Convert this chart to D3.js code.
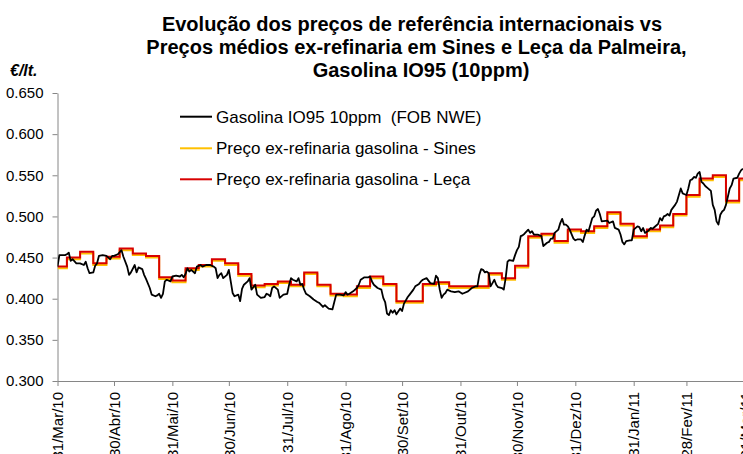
<!DOCTYPE html>
<html><head><meta charset="utf-8">
<script src="https://cdn.jsdelivr.net/npm/d3@7"></script>
<style>
html,body{margin:0;padding:0;background:#fff;}
svg{display:block;font-family:Arial,"Liberation Sans",sans-serif;}
text{white-space:pre;}
</style></head>
<body>
<svg id="chart" width="743" height="454"></svg>
<script>
const titleLines = ["Evolução dos preços de referência internacionais vs",
  "Preços médios ex-refinaria em Sines e Leça da Palmeira,",
  "Gasolina IO95 (10ppm)"];
const unitLabel = "€/lt.";
const seriesNames = ["Gasolina IO95 10ppm  (FOB NWE)",
  "Preço ex-refinaria gasolina - Sines",
  "Preço ex-refinaria gasolina - Leça"];
const yTicks = [0.300,0.350,0.400,0.450,0.500,0.550,0.600,0.650];
const tickDates = ["2010-03-31","2010-04-30","2010-05-31","2010-06-30","2010-07-31","2010-08-31",
  "2010-09-30","2010-10-31","2010-11-30","2010-12-31","2011-01-31","2011-02-28","2011-03-31"];
const tickLabels = ["31/Mar/10","30/Abr/10","31/Mai/10","30/Jun/10","31/Jul/10","31/Ago/10",
  "30/Set/10","31/Out/10","30/Nov/10","31/Dez/10","31/Jan/11","28/Fev/11","31/Mar/11"];

// Gasolina IO95 10ppm (FOB NWE) - daily quotes
const fobDates = ["2010-03-31","2010-04-01","2010-04-04","2010-04-05","2010-04-06","2010-04-07","2010-04-08","2010-04-10","2010-04-12","2010-04-14","2010-04-15","2010-04-16","2010-04-17","2010-04-19","2010-04-20","2010-04-21","2010-04-22","2010-04-24","2010-04-26","2010-04-28","2010-04-29","2010-04-30",
"2010-05-02","2010-05-04","2010-05-05","2010-05-07","2010-05-08","2010-05-09","2010-05-11","2010-05-12","2010-05-13","2010-05-15","2010-05-16","2010-05-17","2010-05-19","2010-05-20","2010-05-22","2010-05-23","2010-05-24","2010-05-25","2010-05-26","2010-05-27","2010-05-28","2010-05-30","2010-05-31",
"2010-06-02","2010-06-04","2010-06-05","2010-06-06","2010-06-07","2010-06-08","2010-06-09","2010-06-10","2010-06-12","2010-06-13","2010-06-15","2010-06-16","2010-06-18","2010-06-20","2010-06-22","2010-06-23","2010-06-24","2010-06-25","2010-06-26","2010-06-27","2010-06-29","2010-06-30",
"2010-07-01","2010-07-02","2010-07-03","2010-07-05","2010-07-06","2010-07-07","2010-07-08","2010-07-10","2010-07-11","2010-07-12","2010-07-14","2010-07-15","2010-07-17","2010-07-19","2010-07-20","2010-07-21","2010-07-22","2010-07-23","2010-07-24","2010-07-26","2010-07-27","2010-07-29","2010-07-31",
"2010-08-01","2010-08-02","2010-08-03","2010-08-05","2010-08-06","2010-08-07","2010-08-08","2010-08-09","2010-08-10","2010-08-12","2010-08-14","2010-08-16","2010-08-17","2010-08-19","2010-08-20","2010-08-22","2010-08-24","2010-08-25","2010-08-26","2010-08-28","2010-08-30","2010-08-31",
"2010-09-01","2010-09-02","2010-09-04","2010-09-06","2010-09-07","2010-09-08","2010-09-10","2010-09-12","2010-09-13","2010-09-14","2010-09-15","2010-09-17","2010-09-19","2010-09-20","2010-09-21","2010-09-22","2010-09-23","2010-09-24","2010-09-25","2010-09-26","2010-09-27","2010-09-29","2010-09-30",
"2010-10-01","2010-10-03","2010-10-04","2010-10-06","2010-10-07","2010-10-09","2010-10-10","2010-10-11","2010-10-13","2010-10-15","2010-10-17","2010-10-18","2010-10-19","2010-10-20","2010-10-21","2010-10-22","2010-10-23","2010-10-24","2010-10-26","2010-10-28","2010-10-30",
"2010-11-01","2010-11-02","2010-11-04","2010-11-06","2010-11-08","2010-11-09","2010-11-10","2010-11-11","2010-11-12","2010-11-13","2010-11-14","2010-11-15","2010-11-16","2010-11-17","2010-11-18","2010-11-19","2010-11-20","2010-11-22","2010-11-23","2010-11-24","2010-11-25","2010-11-26","2010-11-28","2010-11-29","2010-11-30",
"2010-12-01","2010-12-02","2010-12-03","2010-12-04","2010-12-06","2010-12-07","2010-12-08","2010-12-09","2010-12-11","2010-12-13","2010-12-14","2010-12-16","2010-12-17","2010-12-18","2010-12-19","2010-12-20","2010-12-22","2010-12-23","2010-12-24","2010-12-25","2010-12-26","2010-12-27","2010-12-28","2010-12-30","2010-12-31",
"2011-01-01","2011-01-03","2011-01-04","2011-01-05","2011-01-06","2011-01-07","2011-01-08","2011-01-09","2011-01-10","2011-01-11","2011-01-12","2011-01-13","2011-01-14","2011-01-17","2011-01-18","2011-01-20","2011-01-21","2011-01-23","2011-01-24","2011-01-25","2011-01-26","2011-01-27","2011-01-29","2011-01-30","2011-01-31",
"2011-02-02","2011-02-03","2011-02-04","2011-02-05","2011-02-06","2011-02-08","2011-02-09","2011-02-10","2011-02-12","2011-02-13","2011-02-14","2011-02-15","2011-02-16","2011-02-17","2011-02-18","2011-02-19","2011-02-20","2011-02-22","2011-02-23","2011-02-24","2011-02-25","2011-02-26","2011-02-27","2011-02-28",
"2011-03-01","2011-03-02","2011-03-03","2011-03-04","2011-03-05","2011-03-06","2011-03-07","2011-03-08","2011-03-09","2011-03-10","2011-03-11","2011-03-13","2011-03-14","2011-03-15","2011-03-16","2011-03-17","2011-03-18","2011-03-19","2011-03-20","2011-03-21","2011-03-22","2011-03-23","2011-03-24","2011-03-25","2011-03-27","2011-03-28","2011-03-29","2011-03-30"];
const fobValues = [0.439,0.453,0.453,0.454,0.456,0.446,0.448,0.443,0.443,0.441,0.445,0.437,0.431,0.432,0.440,0.443,0.452,0.453,0.452,0.448,0.452,0.452,
0.454,0.459,0.451,0.439,0.429,0.432,0.441,0.432,0.438,0.436,0.429,0.424,0.413,0.405,0.403,0.404,0.406,0.401,0.406,0.421,0.423,0.421,0.427,
0.428,0.427,0.429,0.426,0.430,0.437,0.433,0.435,0.431,0.439,0.441,0.439,0.441,0.441,0.439,0.437,0.425,0.429,0.431,0.425,0.429,0.435,
0.421,0.407,0.403,0.405,0.397,0.412,0.417,0.421,0.425,0.411,0.417,0.405,0.401,0.402,0.406,0.405,0.403,0.413,0.415,0.411,0.401,0.405,0.406,
0.417,0.425,0.423,0.421,0.425,0.417,0.418,0.411,0.406,0.403,0.399,0.396,0.395,0.390,0.392,0.388,0.387,0.396,0.405,0.405,0.404,0.408,
0.405,0.406,0.409,0.413,0.417,0.423,0.426,0.426,0.427,0.421,0.417,0.413,0.411,0.401,0.396,0.382,0.380,0.386,0.383,0.386,0.381,0.388,0.385,
0.394,0.402,0.405,0.411,0.415,0.418,0.421,0.423,0.425,0.419,0.418,0.428,0.425,0.411,0.401,0.405,0.407,0.411,0.409,0.408,0.409,
0.406,0.407,0.409,0.413,0.415,0.415,0.429,0.436,0.435,0.432,0.433,0.431,0.415,0.419,0.423,0.417,0.414,0.413,0.411,0.425,0.445,0.447,0.446,0.453,0.459,
0.463,0.476,0.477,0.479,0.484,0.480,0.482,0.478,0.478,0.476,0.464,0.468,0.469,0.473,0.473,0.480,0.484,0.492,0.497,0.490,0.490,0.488,0.484,0.473,0.471,
0.472,0.472,0.469,0.477,0.484,0.482,0.490,0.498,0.500,0.507,0.509,0.503,0.494,0.495,0.492,0.494,0.486,0.484,0.478,0.469,0.466,0.470,0.471,0.471,0.484,
0.488,0.487,0.482,0.486,0.480,0.483,0.486,0.485,0.489,0.491,0.498,0.495,0.500,0.501,0.503,0.501,0.508,0.514,0.518,0.526,0.534,0.528,0.527,0.526,
0.534,0.544,0.545,0.548,0.547,0.552,0.554,0.542,0.540,0.537,0.535,0.531,0.514,0.508,0.494,0.490,0.502,0.506,0.508,0.514,0.524,0.534,0.538,0.546,0.547,0.552,0.556,0.558];

// Weekly ex-refinery prices (week start dates)
const weekDates = ["2010-03-31","2010-04-05","2010-04-12","2010-04-19","2010-04-26","2010-05-03","2010-05-10","2010-05-17","2010-05-24","2010-05-31",
"2010-06-07","2010-06-14","2010-06-21","2010-06-28","2010-07-05","2010-07-12","2010-07-19","2010-07-26","2010-08-02","2010-08-09",
"2010-08-16","2010-08-23","2010-08-30","2010-09-06","2010-09-13","2010-09-20","2010-09-27","2010-10-04","2010-10-11","2010-10-18",
"2010-10-25","2010-11-01","2010-11-08","2010-11-15","2010-11-22","2010-11-29","2010-12-06","2010-12-13","2010-12-20","2010-12-27",
"2011-01-03","2011-01-10","2011-01-17","2011-01-24","2011-01-31","2011-02-07","2011-02-14","2011-02-21","2011-02-28","2011-03-07",
"2011-03-14","2011-03-21","2011-03-28"];
const lecaValues = [0.439,0.450,0.457,0.443,0.451,0.461,0.455,0.452,0.426,0.422,
0.437,0.441,0.448,0.443,0.430,0.416,0.418,0.421,0.417,0.432,
0.417,0.406,0.405,0.415,0.427,0.418,0.397,0.397,0.418,0.420,
0.415,0.415,0.415,0.431,0.425,0.440,0.476,0.479,0.470,0.484,
0.482,0.488,0.505,0.491,0.476,0.484,0.489,0.503,0.526,0.546,
0.550,0.519,0.546];
const sinesValues = [0.437,0.448,0.455,0.441,0.449,0.459,0.453,0.450,0.424,0.420,
0.435,0.439,0.446,0.441,0.428,0.414,0.416,0.419,0.415,0.430,
0.415,0.404,0.403,0.413,0.425,0.416,0.395,0.395,0.416,0.418,
0.413,0.413,0.413,0.429,0.423,0.438,0.474,0.477,0.468,0.482,
0.480,0.486,0.503,0.489,0.474,0.482,0.487,0.501,0.524,0.544,
0.548,0.517,0.544];

const colors = {fob:"#000000", sines:"#FFC000", leca:"#D80000", axis:"#868686"};

const parse = d3.utcParse("%Y-%m-%d");
const svg = d3.select("#chart");
const x0 = 57.5, yTop = 93, yBot = 381;
const domainStart = parse("2010-03-31"), domainEnd = parse("2011-03-31");
const x = d3.scaleUtc().domain([domainStart, domainEnd]).range([x0, x0 + 365*1.883]);
const y = d3.scaleLinear().domain([0.3, 0.65]).range([yBot, yTop]);

// title
const titleX = [412, 416.5, 421];
const title = svg.append("text").attr("text-anchor","middle").attr("font-weight","bold")
  .attr("font-size",20).attr("fill","#000");
titleLines.forEach((t,i)=>title.append("tspan").attr("x",titleX[i]).attr("y",31+i*23).text(t));
svg.append("text").attr("x",10).attr("y",76).attr("font-size",16).attr("font-weight","bold")
  .attr("font-style","italic").text(unitLabel);

// axes
const yAxis = d3.axisLeft(y).tickValues(yTicks).tickFormat(d3.format(".3f")).tickSize(5).tickSizeOuter(0).tickPadding(9);
const gy = svg.append("g").attr("transform",`translate(${x0},0)`).call(yAxis);
gy.selectAll("text").attr("font-size",15).attr("fill","#000").attr("font-family","Arial");
gy.selectAll("line,path").attr("stroke",colors.axis);

const xAxis = d3.axisBottom(x).tickValues(tickDates.map(parse)).tickFormat((d,i)=>tickLabels[i]).tickSize(5).tickSizeOuter(0);
const gx = svg.append("g").attr("transform",`translate(0,${yBot})`).call(xAxis);
gx.select("path.domain").attr("d",`M${x0},0.5H745`);
gx.selectAll("line,path").attr("stroke",colors.axis);
gx.selectAll("text").attr("font-size",15).attr("fill","#000").attr("font-family","Arial")
  .attr("text-anchor","end").attr("transform","rotate(-90)")
  .attr("x",-11).attr("y",0).attr("dy","0.35em");

// clip
svg.append("clipPath").attr("id","clip").append("rect").attr("x",x0).attr("y",0).attr("width",700).attr("height",yBot);

const plot = svg.append("g").attr("clip-path","url(#clip)");
const stepLine = d3.line().x(d=>x(d[0])).y(d=>y(d[1])).curve(d3.curveStepAfter);
function weekly(vals){
  const pts = weekDates.map((d,i)=>[parse(d), vals[i]]);
  pts.push([d3.utcDay.offset(parse(weekDates[weekDates.length-1]),7), vals[vals.length-1]]);
  return pts;
}
plot.append("path").attr("d",stepLine(weekly(sinesValues))).attr("fill","none")
  .attr("stroke",colors.sines).attr("stroke-width",2);
plot.append("path").attr("d",stepLine(weekly(lecaValues))).attr("fill","none")
  .attr("stroke",colors.leca).attr("stroke-width",2);
const fobLine = d3.line().x(d=>x(d[0])).y(d=>y(d[1]));
plot.append("path").attr("d",fobLine(fobDates.map((d,i)=>[parse(d),fobValues[i]]))).attr("fill","none")
  .attr("stroke",colors.fob).attr("stroke-width",1.8).attr("stroke-linejoin","round");

// legend
const legColors = [colors.fob, colors.sines, colors.leca];
const legY = [116.7, 148.3, 179.3];
seriesNames.forEach((n,i)=>{
  svg.append("line").attr("x1",180).attr("x2",212).attr("y1",legY[i]).attr("y2",legY[i])
    .attr("stroke",legColors[i]).attr("stroke-width",2);
  svg.append("text").attr("x",216).attr("y",legY[i]+6).attr("font-size",17).attr("fill","#000").text(n);
});
</script>
</body></html>
